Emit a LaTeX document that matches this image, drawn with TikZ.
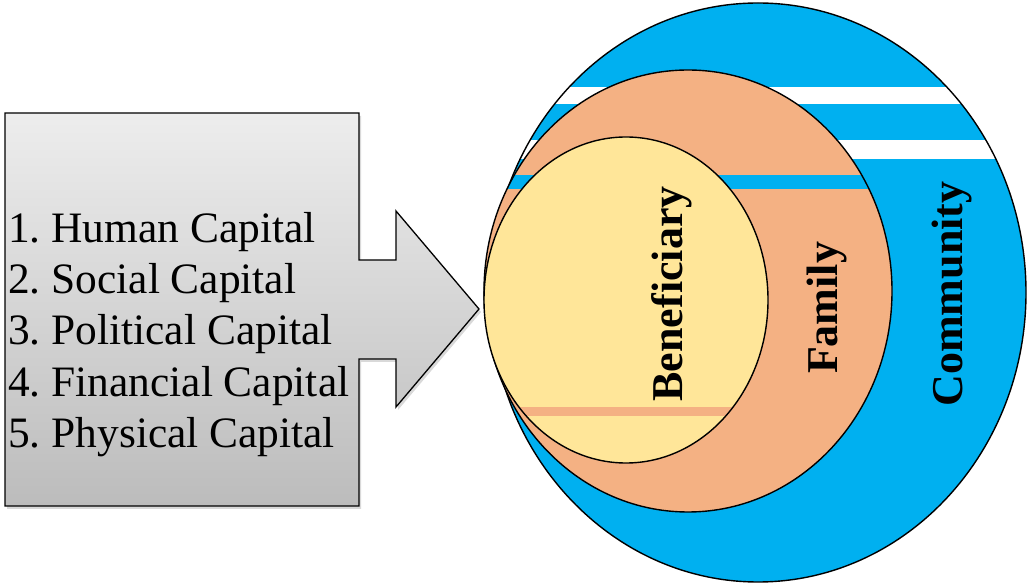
\documentclass[tikz,border=0pt]{standalone}
\usepackage{fontspec}
\setmainfont{Liberation Serif}
\usetikzlibrary{shadows}
\definecolor{commblue}{HTML}{00B0F0}
\definecolor{famorange}{HTML}{F4B183}
\definecolor{benyellow}{HTML}{FFE699}
\definecolor{graytop}{HTML}{EDEDED}
\definecolor{graybot}{HTML}{BCBCBC}
\frenchspacing
\begin{document}
\begin{tikzpicture}[x=1pt,y=1pt,
  listtext/.style={anchor=base west, inner sep=0pt, font=\fontsize{43.4}{52}\selectfont},
  ringlabel/.style={anchor=base, rotate=90, inner sep=0pt, font=\fontsize{44}{52}\selectfont\bfseries},
  ring/.style={draw=black, line width=1.4pt},
  arrowbox/.style={top color=graytop, bottom color=graybot, draw=black, line width=1.3pt, line join=miter,
    drop shadow={shadow xshift=2pt, shadow yshift=-3pt, opacity=0.3}}]
\useasboundingbox (0,0) rectangle (1030,586);
% input arrow
\path[arrowbox] (5,473) -- (359,473) -- (359,326) -- (396,326) -- (396,375) -- (479,277)
  -- (396,179) -- (396,227) -- (359,227) -- (359,80) -- (5,80) -- cycle;
\node[listtext] (l1) at (8,343) {1. Human Capital};
\node[listtext] (l2) at (8,292) {2. Social Capital};
\node[listtext] (l3) at (8,241) {3. Political Capital};
\node[listtext] (l4) at (8,189) {4. Financial Capital};
\node[listtext] (l5) at (8,138) {5. Physical Capital};
% community
\fill[commblue] (758,293.5) ellipse [x radius=268, y radius=289.5];
\begin{scope}
  \clip (758,293.5) ellipse [x radius=268, y radius=289.5];
  \fill[white] (480,482) rectangle (1030,499);
  \fill[white] (480,427) rectangle (1030,446);
\end{scope}
\draw[ring] (758,293.5) ellipse [x radius=268, y radius=289.5];
% family
\fill[famorange] (688,295) ellipse [x radius=204, y radius=221];
\begin{scope}
  \clip (688,295) ellipse [x radius=204, y radius=221];
  \fill[commblue] (480,397) rectangle (1030,411);
\end{scope}
\draw[ring] (688,295) ellipse [x radius=204, y radius=221];
% beneficiary
\fill[benyellow] (626,286) ellipse [x radius=142, y radius=163];
\begin{scope}
  \clip (626,286) ellipse [x radius=142, y radius=163];
  \fill[famorange] (480,170) rectangle (1030,179);
\end{scope}
\draw[ring] (626,286) ellipse [x radius=142, y radius=163];
% labels
\node[ringlabel] (ben) at (682,292) {Beneficiary};
\node[ringlabel] (fam) at (837,278) {Family};
\node[ringlabel] (com) at (962,292) {Community};
\end{tikzpicture}
\end{document}
